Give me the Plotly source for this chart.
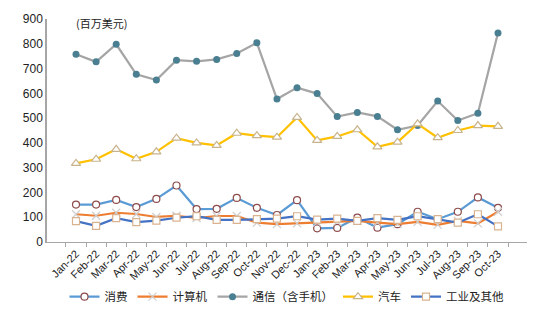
import plotly.graph_objects as go

months = ["Jan-22","Feb-22","Mar-22","Apr-22","May-22","Jun-22","Jul-22","Aug-22","Sep-22","Oct-22","Nov-22","Dec-22",
          "Jan-23","Feb-23","Mar-23","Apr-23","May-23","Jun-23","Jul-23","Aug-23","Sep-23","Oct-23"]

consumer = [151,151,170,141,174,228,133,134,178,138,109,169,55,57,98,58,72,122,92,122,180,138]
computer = [112,106,118,113,101,106,97,105,105,78,72,75,78,81,85,78,72,81,69,85,75,122]
telecom = [758,727,798,677,654,734,729,737,761,804,577,623,599,506,523,507,453,470,569,490,520,844]
auto = [317,334,374,336,364,419,400,390,439,429,423,503,410,426,453,384,403,477,421,450,470,467]
industrial = [84,65,96,80,86,98,104,89,89,92,94,104,90,94,85,96,89,104,92,78,112,63]

names = ["消费", "计算机", "通信（含手机）", "汽车", "工业及其他"]

fig = go.Figure()
fig.add_trace(go.Scatter(x=months, y=consumer, name=names[0], mode="lines+markers",
    line=dict(color="#5B9BD5", width=2.2),
    marker=dict(symbol="circle", size=7, color="white", line=dict(color="#8E4B4B", width=1.2))))
fig.add_trace(go.Scatter(x=months, y=computer, name=names[1], mode="lines+markers",
    line=dict(color="#ED7D31", width=2.2),
    marker=dict(symbol="x-thin", size=8, color="#CFCFCF", line=dict(color="#CFCFCF", width=1.2))))
fig.add_trace(go.Scatter(x=months, y=telecom, name=names[2], mode="lines+markers",
    line=dict(color="#A5A5A5", width=2.2),
    marker=dict(symbol="circle", size=7, color="#4A7F92", line=dict(width=0))))
fig.add_trace(go.Scatter(x=months, y=auto, name=names[3], mode="lines+markers",
    line=dict(color="#FFC000", width=2.2),
    marker=dict(symbol="triangle-up", size=8, color="white", line=dict(color="#C8B48C", width=1.2))))
fig.add_trace(go.Scatter(x=months, y=industrial, name=names[4], mode="lines+markers",
    line=dict(color="#4472C4", width=2.2),
    marker=dict(symbol="square", size=7, color="white", line=dict(color="#D9B38F", width=1.2))))

fig.update_layout(
    width=550, height=323,
    margin=dict(l=47, r=23, t=17, b=80),
    paper_bgcolor="white", plot_bgcolor="white",
    font=dict(family="Liberation Sans, Arial, Noto Sans CJK SC", size=11, color="#222"),
    showlegend=True,
    legend=dict(orientation="h", x=0.5, xanchor="center", y=-0.245, yanchor="middle",
                font=dict(size=11.5, family="Noto Sans CJK SC, Liberation Sans"),
                itemwidth=30, tracegroupgap=0, bgcolor="rgba(0,0,0,0)"),
    xaxis=dict(type="category", tickangle=-45, showgrid=False, showline=True,
               linecolor="#A6A6A6", linewidth=1.2, ticks="outside", ticklen=4,
               tickcolor="#A6A6A6", tickson="boundaries", tickfont=dict(size=11)),
    yaxis=dict(range=[0, 900], dtick=100, showgrid=False, showline=True,
               linecolor="#A6A6A6", linewidth=1.5, ticks="", tickfont=dict(size=12),
               zeroline=False),
    annotations=[dict(text="(百万美元)", x=101, y=21, xref="paper", yref="paper",
                      showarrow=False, font=dict(size=11, family="Noto Sans CJK SC"))],
)
# position annotation by pixel -> paper
fig.layout.annotations[0].x = (101 - 47) / 480
fig.layout.annotations[0].y = (243 - 21) / 226
fig.layout.annotations[0].xanchor = "center"
fig.layout.annotations[0].yanchor = "middle"

fig.write_html("out.html")
